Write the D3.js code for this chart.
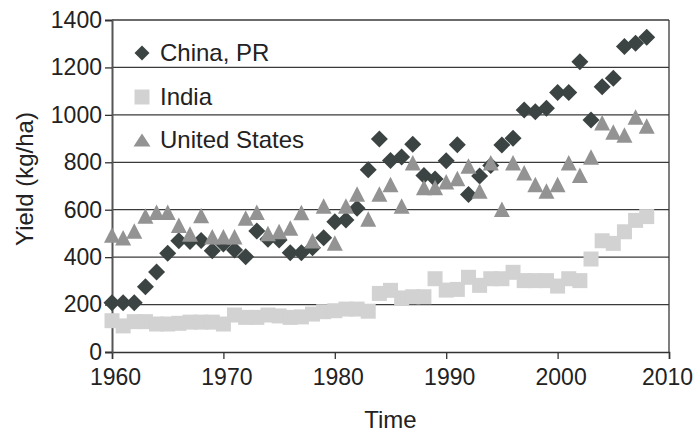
<!DOCTYPE html>
<html>
<head>
<meta charset="utf-8">
<script src="https://cdn.jsdelivr.net/npm/d3@7"></script>
<style>
  html, body { margin: 0; padding: 0; background: #fff; }
  svg { display: block; font-family: "Liberation Sans", Arial, sans-serif; }
</style>
</head>
<body>
<svg id="chart" width="696" height="435"></svg>
<script>
const years = d3.range(1960, 2009);
const china = [208,208,208,275,337,416,469,466,470,427,455,430,402,510,475,472,419,419,440,482,549,557,606,768,898,808,822,876,744,730,807,874,664,742,786,873,901,1020,1013,1028,1094,1094,1224,978,1119,1154,1288,1302,1327];
const india = [132,110,128,128,118,118,121,126,126,126,118,156,146,146,156,152,146,148,160,170,174,181,181,172,247,260,228,233,233,309,261,264,315,281,309,309,336,301,301,301,278,309,301,392,469,458,507,555,571];
const usa = [493,482,510,573,589,589,535,498,576,486,486,486,565,589,500,508,523,588,469,616,460,616,666,561,666,706,616,798,694,694,718,732,784,679,798,602,798,756,706,679,706,798,745,822,967,928,915,991,953];
const seriesNames = ["China, PR", "India", "United States"];
const xTicks = [1960, 1970, 1980, 1990, 2000, 2010];
const yTicks = [0, 200, 400, 600, 800, 1000, 1200, 1400];
const xLabel = "Time";
const yLabel = "Yield (kg/ha)";

const svg = d3.select("#chart");
const W = 696, H = 435;
const m = {left: 112, top: 20, right: 27, bottom: 83};
const x = d3.scaleLinear().domain([1960, 2010]).range([m.left, W - m.right]);
const y = d3.scaleLinear().domain([0, 1400]).range([H - m.bottom, m.top]);

// gridlines
svg.append("g").selectAll("line").data(yTicks.filter(d => d > 0)).join("line")
  .attr("x1", m.left).attr("x2", W - m.right)
  .attr("y1", d => y(d)).attr("y2", d => y(d))
  .attr("stroke", "#3a3a3a").attr("stroke-width", 1.3);
// right border
svg.append("line").attr("x1", W - m.right).attr("x2", W - m.right)
  .attr("y1", m.top).attr("y2", H - m.bottom)
  .attr("stroke", "#3a3a3a").attr("stroke-width", 1.3);

// x axis
const xAxis = svg.append("g").attr("transform", `translate(0,${H - m.bottom})`)
  .call(d3.axisBottom(x).tickValues(xTicks).tickFormat(d3.format("d")).tickSize(7).tickPadding(10));
xAxis.select(".domain").attr("stroke", "#333").attr("stroke-width", 1.5);
xAxis.selectAll(".tick line").attr("stroke", "#333").attr("stroke-width", 1.3);
xAxis.selectAll(".tick text").attr("font-size", 23).attr("fill", "#222")
  .attr("font-family", "Liberation Sans, Arial, sans-serif")
  .attr("dx", d => d === 2010 ? -2 : 3);

// y axis
const yAxis = svg.append("g").attr("transform", `translate(${m.left},0)`)
  .call(d3.axisLeft(y).tickValues(yTicks).tickFormat(d3.format("d")).tickSize(7).tickPadding(3));
yAxis.select(".domain").attr("stroke", "#555").attr("stroke-width", 2);
yAxis.selectAll(".tick line").attr("stroke", "#333").attr("stroke-width", 1.3);
yAxis.selectAll(".tick text").attr("font-size", 23).attr("fill", "#222")
  .attr("font-family", "Liberation Sans, Arial, sans-serif");

// markers
function diamondPath(s) { const h = s / 2; return `M0,${-h}L${h},0L0,${h}L${-h},0Z`; }
function squarePath(s) { const h = s / 2; return `M${-h},${-h}H${h}V${h}H${-h}Z`; }
function trianglePath(w, hgt) { return `M0,${-hgt/2}L${w/2},${hgt/2}L${-w/2},${hgt/2}Z`; }

const cChina = "#3b4442", cIndia = "#d2d2d2", cUS = "#939393";

svg.append("g").selectAll("path").data(years.map((yr, i) => [yr, china[i]])).join("path")
  .attr("transform", d => `translate(${x(d[0])},${y(d[1])})`)
  .attr("d", diamondPath(17)).attr("fill", cChina);
svg.append("g").selectAll("path").data(years.map((yr, i) => [yr, india[i]])).join("path")
  .attr("transform", d => `translate(${x(d[0])},${y(d[1])})`)
  .attr("d", squarePath(15)).attr("fill", cIndia);
svg.append("g").selectAll("path").data(years.map((yr, i) => [yr, usa[i]])).join("path")
  .attr("transform", d => `translate(${x(d[0])},${y(d[1])})`)
  .attr("d", trianglePath(16, 15.5)).attr("fill", cUS);

// legend
const leg = svg.append("g");
const legRows = [
  {name: seriesNames[0], d: diamondPath(15), c: cChina, cy: 53},
  {name: seriesNames[1], d: squarePath(15), c: cIndia, cy: 97},
  {name: seriesNames[2], d: trianglePath(17, 13), c: cUS, cy: 140}
];
legRows.forEach(r => {
  leg.append("path").attr("transform", `translate(142,${r.cy})`).attr("d", r.d).attr("fill", r.c);
  leg.append("text").attr("x", 160).attr("y", r.cy + 8).attr("font-size", 24).attr("fill", "#222").text(r.name);
});

// axis titles
svg.append("text").attr("x", (m.left + W - m.right) / 2).attr("y", 428)
  .attr("text-anchor", "middle").attr("font-size", 24).attr("fill", "#222").text(xLabel);
svg.append("text").attr("transform", `translate(33,179) rotate(-90)`)
  .attr("text-anchor", "middle").attr("font-size", 24).attr("fill", "#222").text(yLabel);
</script>
</body>
</html>
